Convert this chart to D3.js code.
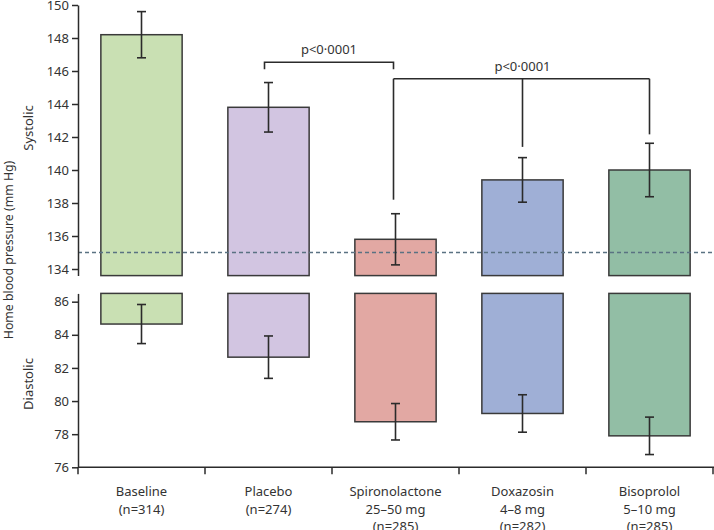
<!DOCTYPE html>
<html>
<head>
<meta charset="utf-8">
<title>Home blood pressure</title>
<script src="https://d3js.org/d3.v7.min.js"></script>
<style>
  body { margin: 0; background: #fff; }
  svg text { font-family: "Noto Sans", "Open Sans", sans-serif; fill: #333; }
</style>
</head>
<body>
<svg id="chart" width="714" height="530"></svg>
<script>
// groups and their label lines
var groups = ["Baseline", "Placebo", "Spironolactone", "Doxazosin", "Bisoprolol"];
var groupLabels = [
  ["Baseline", "(n=314)"],
  ["Placebo", "(n=274)"],
  ["Spironolactone", "25\u201350 mg", "(n=285)"],
  ["Doxazosin", "4\u20138 mg", "(n=282)"],
  ["Bisoprolol", "5\u201310 mg", "(n=285)"]
];
var colors = ["#c9e0b3", "#d2c5e1", "#e2a8a3", "#9fafd6", "#92bea5"];

// mean and half-width of the interval
var sysMean = [148.2, 143.8, 135.8, 139.4, 140.0];
var sysErr  = [1.4, 1.5, 1.55, 1.35, 1.62];
var diaMean = [84.65, 82.65, 78.75, 79.25, 77.9];
var diaErr  = [1.18, 1.28, 1.1, 1.13, 1.13];

var sysTicks = [134, 136, 138, 140, 142, 144, 146, 148, 150];
var diaTicks = [76, 78, 80, 82, 84, 86];
var target = 135;

// comparison brackets (systolic scale)
var bracket1 = { from: "Placebo", to: "Spironolactone", level: 146.53, legEnd: 146.1, label: "p<0\u00b70001" };
var bracket2 = { legs: ["Spironolactone", "Doxazosin", "Bisoprolol"],
                 level: 145.53, legEnds: [138.2, 141.4, 142.16], label: "p<0\u00b70001" };

var svg = d3.select("#chart");
var left = 78, right = 713;

var x = d3.scaleBand().domain(groups).range([left, right]);
var ySys = d3.scaleLinear().domain([133.6, 150]).range([275.6, 5]);
var yDia = d3.scaleLinear().domain([76, 86.5]).range([467.3, 293.4]);

var barW = x.bandwidth() * 0.64;
function cx(g) { return x(g) + x.bandwidth() / 2; }

// bars
function drawBars(y, means, base) {
  svg.append("g").selectAll("rect").data(groups).enter().append("rect")
    .attr("x", function(d) { return cx(d) - barW / 2; })
    .attr("width", barW)
    .attr("y", function(d, i) { return Math.min(y(means[i]), y(base)); })
    .attr("height", function(d, i) { return Math.abs(y(base) - y(means[i])); })
    .attr("fill", function(d, i) { return colors[i]; })
    .attr("stroke", "#3a3a3a")
    .attr("stroke-width", 1.5);
}
drawBars(ySys, sysMean, 133.6);
drawBars(yDia, diaMean, 86.5);

// dashed target line
svg.append("line")
  .attr("x1", left).attr("x2", 714)
  .attr("y1", ySys(target)).attr("y2", ySys(target))
  .attr("stroke", "#5a7282").attr("stroke-width", 1.6)
  .attr("stroke-dasharray", "4,3");

// error bars
function drawErr(y, means, errs) {
  var g = svg.append("g").attr("stroke", "#2b2b2b").attr("stroke-width", 1.6);
  groups.forEach(function(d, i) {
    var c = cx(d), hi = y(means[i] + errs[i]), lo = y(means[i] - errs[i]);
    g.append("line").attr("x1", c).attr("x2", c).attr("y1", hi).attr("y2", lo);
    g.append("line").attr("x1", c - 4.5).attr("x2", c + 4.5).attr("y1", hi).attr("y2", hi);
    g.append("line").attr("x1", c - 4.5).attr("x2", c + 4.5).attr("y1", lo).attr("y2", lo);
  });
}
drawErr(ySys, sysMean, sysErr);
drawErr(yDia, diaMean, diaErr);

// axes
function styleAxis(g) {
  g.selectAll("path, line").attr("stroke", "#2b2b2b").attr("stroke-width", 1.5);
  g.selectAll("text").attr("font-size", 13).attr("fill", "#333");
}
svg.append("g").attr("transform", "translate(" + left + ",0)")
  .call(d3.axisLeft(ySys).tickValues(sysTicks).tickSize(6).tickSizeOuter(0).tickPadding(3))
  .call(styleAxis);
svg.append("g").attr("transform", "translate(" + left + ",0)")
  .call(d3.axisLeft(yDia).tickValues(diaTicks).tickSize(6).tickSizeOuter(0).tickPadding(3))
  .call(styleAxis)
  .append("line").attr("x1", 0).attr("x2", 0).attr("y1", yDia(76)).attr("y2", yDia(76) + 7)
  .attr("stroke", "#2b2b2b").attr("stroke-width", 1.5);

// x axis with boundary ticks
var xg = svg.append("g").attr("stroke", "#2b2b2b").attr("stroke-width", 1.5);
xg.append("line").attr("x1", left).attr("x2", 714).attr("y1", yDia(76)).attr("y2", yDia(76));
groups.forEach(function(d) {
  var bx = x(d) + x.bandwidth();
  xg.append("line").attr("x1", bx).attr("x2", bx).attr("y1", yDia(76)).attr("y2", yDia(76) + 7);
});

// category labels
groups.forEach(function(d, i) {
  var t = svg.append("text").attr("text-anchor", "middle").attr("font-size", 13);
  groupLabels[i].forEach(function(s, j) {
    t.append("tspan").attr("x", cx(d)).attr("y", 496 + j * 17.5).text(s);
  });
});

// axis titles
svg.append("text").attr("transform", "translate(13,250) rotate(-90)")
  .attr("text-anchor", "middle").attr("font-size", 12.3).text("Home blood pressure (mm Hg)");
svg.append("text").attr("transform", "translate(33,128) rotate(-90)")
  .attr("text-anchor", "middle").attr("font-size", 13).text("Systolic");
svg.append("text").attr("transform", "translate(33,384) rotate(-90)")
  .attr("text-anchor", "middle").attr("font-size", 13).text("Diastolic");

// brackets
var bk = svg.append("g").attr("stroke", "#2b2b2b").attr("stroke-width", 1.6).attr("fill", "none");
var b1a = cx(bracket1.from) - 4, b1b = cx(bracket1.to) - 2;
bk.append("path").attr("d", d3.line()([[b1a, ySys(bracket1.legEnd)], [b1a, ySys(bracket1.level)],
  [b1b, ySys(bracket1.level)], [b1b, ySys(bracket1.legEnd)]]));
svg.append("text").attr("x", (b1a + b1b) / 2).attr("y", ySys(bracket1.level) - 8)
  .attr("text-anchor", "middle").attr("font-size", 13).text(bracket1.label);

var legX = bracket2.legs.map(function(d, i) { return cx(d) - (i === 0 ? 2 : 0); });
bk.append("line").attr("x1", legX[0]).attr("x2", legX[2])
  .attr("y1", ySys(bracket2.level)).attr("y2", ySys(bracket2.level));
legX.forEach(function(lx, i) {
  bk.append("line").attr("x1", lx).attr("x2", lx)
    .attr("y1", ySys(bracket2.level)).attr("y2", ySys(bracket2.legEnds[i]));
});
svg.append("text").attr("x", legX[1]).attr("y", ySys(bracket2.level) - 8)
  .attr("text-anchor", "middle").attr("font-size", 13).text(bracket2.label);
</script>
</body>
</html>
